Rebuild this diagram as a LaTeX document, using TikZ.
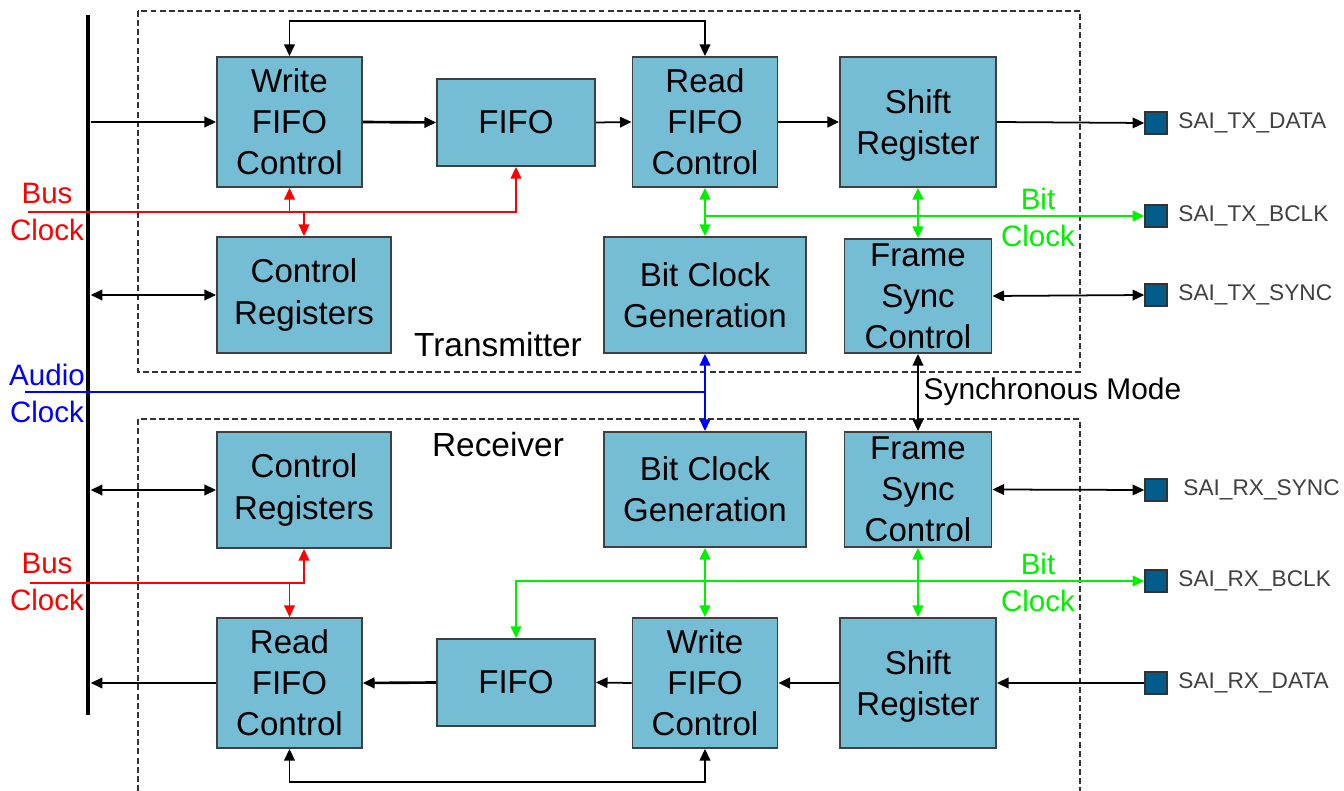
\documentclass[tikz,border=0pt]{standalone}
\usepackage{fontspec}
\setmainfont{Liberation Sans}
\usetikzlibrary{arrows.meta, positioning}

\definecolor{blockfill}{RGB}{116,189,213}
\definecolor{pinfill}{RGB}{0,92,136}
\definecolor{clkred}{RGB}{255,0,0}
\definecolor{clkgreen}{RGB}{0,240,0}
\definecolor{clkblue}{RGB}{0,0,255}

\begin{document}
\begin{tikzpicture}[
    x=0.01cm, y=-0.01cm,
    node distance=0.1cm,
    block/.style={rectangle, draw=black!75, fill=blockfill, line width=0.5pt, inner sep=0pt, align=center,
      font=\fontsize{9.4}{11.7}\selectfont},
    bus/.style={rectangle, fill=black, inner sep=0pt, minimum width=0.04cm, minimum height=7cm},
    pin/.style={rectangle, draw=black!80, fill=pinfill, line width=0.4pt, inner sep=0pt, minimum size=0.22cm},
    pintext/.style={inner sep=0pt, text=black!75, font=\fontsize{6.45}{7.7}\selectfont},
    sidetext/.style={inner sep=0pt, align=center, font=\fontsize{8.4}{10.5}\selectfont},
    frame/.style={draw=black!80, line width=0.4pt, dash pattern=on 1.7pt off 0.9pt},
    arrow/.style={line width=0.5pt, -{Triangle[length=3.3pt, width=3pt]}},
    biarrow/.style={line width=0.5pt, {Triangle[length=3.3pt, width=3pt]}-{Triangle[length=3.3pt, width=3pt]}}
  ]
    \useasboundingbox (0,0) rectangle (1344,791);

    % transmitter and receiver frames
    \draw[frame] (138,11) rectangle (1080,372);
    \draw[frame] (138,791) |- (1080,419) -- (1080,791);

    % system bus
    \node[bus] (bus) at (88,365) {};

    % transmitter
    \node[block, minimum width=1.45cm, minimum height=1.3cm] (txwfc) at (289.5,122) {Write\\FIFO\\Control};
    \node[block, minimum width=1.58cm, minimum height=0.87cm] (txfifo) at (516,122.5) {FIFO};
    \node[block, minimum width=1.45cm, minimum height=1.3cm] (txrfc) at (705,122) {Read\\FIFO\\Control};
    \node[block, minimum width=1.56cm, minimum height=1.3cm, text depth=0pt] (txsr) at (918,122) {Shift\\Register};
    \node[block, minimum width=1.74cm, minimum height=1.16cm] (txcr) at (304,295) {Control\\Registers};
    \node[block, minimum width=2.02cm, minimum height=1.16cm] (txbcg) at (705,295) {Bit Clock\\Generation};
    \node[block, minimum width=1.47cm, minimum height=1.14cm] (txfsc) at (918,296) {Frame\\Sync\\Control};

    % receiver
    \node[block, minimum width=1.74cm, minimum height=1.16cm] (rxcr) at (304,490) {Control\\Registers};
    \node[block, minimum width=2.02cm, minimum height=1.15cm] (rxbcg) at (705,489.5) {Bit Clock\\Generation};
    \node[block, minimum width=1.47cm, minimum height=1.15cm] (rxfsc) at (918,489.5) {Frame\\Sync\\Control};
    \node[block, minimum width=1.45cm, minimum height=1.3cm] (rxrfc) at (289.5,683) {Read\\FIFO\\Control};
    \node[block, minimum width=1.58cm, minimum height=0.87cm] (rxfifo) at (516,682.5) {FIFO};
    \node[block, minimum width=1.45cm, minimum height=1.3cm] (rxwfc) at (705,683) {Write\\FIFO\\Control};
    \node[block, minimum width=1.56cm, minimum height=1.3cm, text depth=0pt] (rxsr) at (918,683) {Shift\\Register};

    % pins
    \node[pin] (txdata) at (1156,123) {};
    \node[pin] (txbclk) at (1156,216) {};
    \node[pin] (txsync) at (1156,295) {};
    \node[pin] (rxsync) at (1156,490) {};
    \node[pin] (rxbclk) at (1156,581) {};
    \node[pin] (rxdata) at (1156,683) {};
    \node[pintext, right=of txdata] (txdatat) {SAI\_TX\_DATA};
    \node[pintext, right=of txbclk] (txbclkt) {SAI\_TX\_BCLK};
    \node[pintext, right=of txsync] (txsynct) {SAI\_TX\_SYNC};
    \node[pintext, right=0.15cm of rxsync] (rxsynct) {SAI\_RX\_SYNC};
    \node[pintext, right=of rxbclk] (rxbclkt) {SAI\_RX\_BCLK};
    \node[pintext, right=of rxdata] (rxdatat) {SAI\_RX\_DATA};

    % labels
    \node[font=\fontsize{9.5}{11}\selectfont] (txname) at (498,345) {Transmitter};
    \node[font=\fontsize{9.5}{11}\selectfont] (rxname) at (498,445) {Receiver};
    \node[anchor=west, inner sep=0pt, font=\fontsize{8.5}{10}\selectfont] (syncmode) at (923,392) {Synchronous Mode};
    \node[sidetext, text=clkred] (bclktx) at (47,212) {Bus\\Clock};
    \node[sidetext, text=clkblue] (aclk) at (47,393) {Audio\\Clock};
    \node[sidetext, text=clkred] (bclkrx) at (47,582) {Bus\\Clock};
    \node[sidetext, text=clkgreen] (bitclktx) at (1038,217) {Bit\\Clock};
    \node[sidetext, text=clkgreen] (bitclkrx) at (1038,582) {Bit\\Clock};

    \coordinate (busclktx) at (28,212);
    \coordinate (busclkrx) at (30,583);
    \coordinate (audioclk) at (25,392);

    % transmitter data path
    \draw[arrow] (bus.east |- txwfc.west) -- (txwfc.west);
    \draw[arrow, line width=0.75pt] (txwfc.east) -- (txfifo.west);
    \draw[arrow] (txfifo.east) -- (txrfc.west);
    \draw[arrow, line width=0.75pt] (txrfc.east) -- (txsr.west);
    \draw[arrow] (txsr.east) -- (txdata.west);
    \draw[biarrow] (txwfc.north) -- ++(0,-35) -| (txrfc.north);
    \draw[biarrow] (bus.east |- txcr.west) -- (txcr.west);
    \draw[biarrow] (txfsc.east) -- (txsync.west);

    % transmitter clocks
    \draw[arrow, clkred] (busclktx) -| (txfifo.south);
    \draw[arrow, clkred] (txwfc.south |- busclktx) -- (txwfc.south);
    \draw[arrow, clkred] (txcr.north |- busclktx) -- (txcr.north);
    \draw[biarrow, clkgreen, line width=0.65pt] (txrfc.south) -- (txbcg.north);
    \draw[arrow, clkgreen] (txrfc.south |- txbclk.west) -- (txbclk.west);
    \draw[biarrow, clkgreen, line width=0.65pt] (txsr.south) -- (txfsc.north);

    % audio clock and sync
    \draw[clkblue, line width=0.5pt] (audioclk) -- (txbcg.south |- audioclk);
    \draw[arrow, clkblue] (txbcg.south |- audioclk) -- (txbcg.south);
    \draw[arrow, clkblue] (txbcg.south |- audioclk) -- (rxbcg.north);
    \draw[biarrow] (txfsc.south) -- (rxfsc.north);

    % receiver data path
    \draw[biarrow] (bus.east |- rxcr.west) -- (rxcr.west);
    \draw[biarrow] (rxfsc.east) -- (rxsync.west);
    \draw[arrow] (rxrfc.west) -- (bus.east |- rxrfc.west);
    \draw[arrow, line width=0.75pt] (rxfifo.west) -- (rxrfc.east);
    \draw[arrow] (rxwfc.west) -- (rxfifo.east);
    \draw[arrow, line width=0.75pt] (rxsr.west) -- (rxwfc.east);
    \draw[arrow] (rxdata.west) -- (rxsr.east);
    \draw[biarrow] (rxrfc.south) -- ++(0,33) -| (rxwfc.south);

    % receiver clocks
    \draw[arrow, clkred] (busclkrx) -| (rxcr.south);
    \draw[arrow, clkred] (rxrfc.north |- busclkrx) -- (rxrfc.north);
    \draw[biarrow, clkgreen, line width=0.65pt] (rxbcg.south) -- (rxwfc.north);
    \draw[biarrow, clkgreen] (rxfifo.north) |- (rxbclk.west);
    \draw[biarrow, clkgreen, line width=0.65pt] (rxfsc.south) -- (rxsr.north);
  \end{tikzpicture}
\end{document}
